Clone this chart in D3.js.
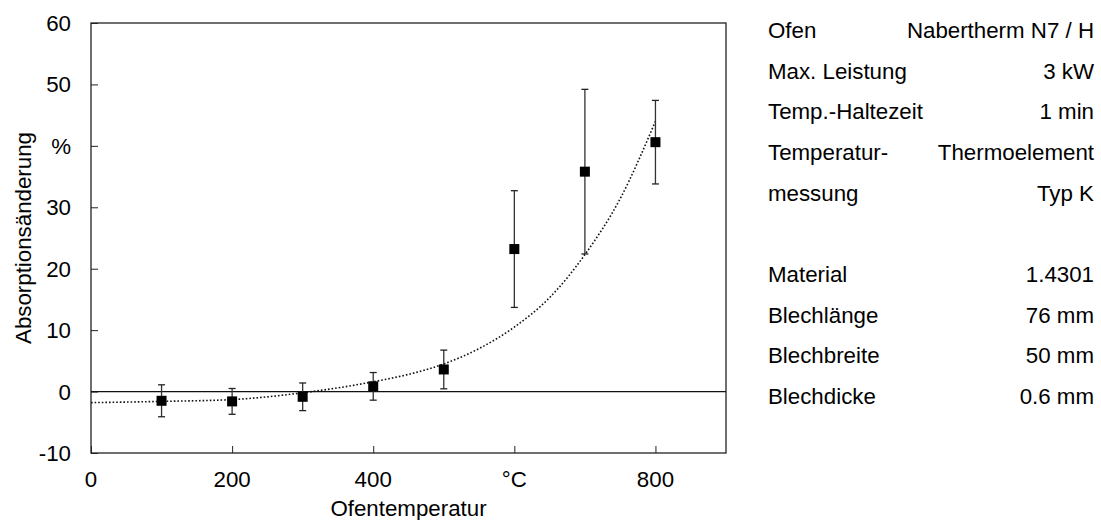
<!DOCTYPE html>
<html>
<head>
<meta charset="utf-8">
<script src="https://cdn.jsdelivr.net/npm/d3@7"></script>
<style>
  body { margin: 0; background: #fff; }
  svg { display: block; font-family: "Liberation Sans", Arial, sans-serif; }
</style>
</head>
<body>
<div id="chart"></div>
<script>
// Messwerte
const temps = [100, 200, 300, 400, 500, 600, 700, 800];
const values = [-1.5, -1.6, -0.85, 0.85, 3.6, 23.2, 35.8, 40.6];
const errors = [2.6, 2.1, 2.25, 2.25, 3.15, 9.5, 13.4, 6.8];

// Trendlinie
const trendX = [0, 100, 200, 300, 400, 450, 500, 550, 600, 650, 700, 750, 800];
const trendY = [-1.8, -1.6, -1.3, -0.2, 1.6, 2.8, 4.5, 7.0, 10.5, 15.3, 22.3, 31.4, 44.0];

// Achsen
const xTicks = [0, 200, 400, 600, 800];
const xTickLabels = ["0", "200", "400", "°C", "800"];
const yTicks = [-10, 0, 10, 20, 30, 40, 50, 60];
const yTickLabels = ["-10", "0", "10", "20", "30", "%", "50", "60"];

// Versuchsparameter
const infoLabels = ["Ofen", "Max. Leistung", "Temp.-Haltezeit", "Temperatur-", "messung", "", "Material", "Blechlänge", "Blechbreite", "Blechdicke"];
const infoValues = ["Nabertherm N7 / H", "3 kW", "1 min", "Thermoelement", "Typ K", "", "1.4301", "76 mm", "50 mm", "0.6 mm"];

const W = 1101, H = 520;
const margin = { top: 23, right: 375, bottom: 67, left: 91 };
const width = W - margin.left - margin.right;
const height = H - margin.top - margin.bottom;
const fs = 22.3;

const svg = d3.select("#chart").append("svg")
  .attr("width", W)
  .attr("height", H);

const g = svg.append("g")
  .attr("transform", "translate(" + margin.left + "," + margin.top + ")");

const x = d3.scaleLinear().domain([0, 900]).range([0, width]);
const y = d3.scaleLinear().domain([-10, 60]).range([height, 0]);

// Rahmen
g.append("rect")
  .attr("width", width)
  .attr("height", height)
  .attr("fill", "none")
  .attr("stroke", "#222")
  .attr("stroke-width", 1.3);

// Ticks nach innen
g.append("g")
  .attr("transform", "translate(0," + height + ")")
  .call(d3.axisBottom(x).tickValues(xTicks).tickSize(-7).tickFormat(""))
  .call(a => a.select(".domain").remove())
  .selectAll("line").attr("stroke", "#222");

g.append("g")
  .call(d3.axisLeft(y).tickValues(yTicks).tickSize(-7).tickFormat(""))
  .call(a => a.select(".domain").remove())
  .selectAll("line").attr("stroke", "#222");

// Tick-Beschriftungen
g.selectAll(".xlab").data(xTicks).join("text")
  .attr("x", d => x(d))
  .attr("y", height + 34)
  .attr("text-anchor", "middle")
  .attr("font-size", fs)
  .text((d, i) => xTickLabels[i]);

g.selectAll(".ylab").data(yTicks).join("text")
  .attr("x", -20)
  .attr("y", d => y(d))
  .attr("dy", "0.36em")
  .attr("text-anchor", "end")
  .attr("font-size", fs)
  .text((d, i) => yTickLabels[i]);

// Achsentitel
g.append("text")
  .attr("x", width / 2)
  .attr("y", height + 63)
  .attr("text-anchor", "middle")
  .attr("font-size", fs)
  .text("Ofentemperatur");

g.append("text")
  .attr("transform", "translate(" + (-60) + "," + (height / 2) + ") rotate(-90)")
  .attr("text-anchor", "middle")
  .attr("font-size", fs)
  .text("Absorptionsänderung");

// Nulllinie
g.append("line")
  .attr("x1", 0).attr("x2", width)
  .attr("y1", y(0)).attr("y2", y(0))
  .attr("stroke", "#111")
  .attr("stroke-width", 1.2);

// Trendlinie
const line = d3.line()
  .x(d => x(d[0]))
  .y(d => y(d[1]))
  .curve(d3.curveMonotoneX);

g.append("path")
  .datum(trendX.map((d, i) => [d, trendY[i]]))
  .attr("fill", "none")
  .attr("stroke", "#111")
  .attr("stroke-width", 1.6)
  .attr("stroke-dasharray", "1.6,2")
  .attr("d", line);

// Fehlerbalken
const data = temps.map((t, i) => ({ t: t, v: values[i], e: errors[i] }));
const eb = g.selectAll(".err").data(data).join("g");
eb.append("line")
  .attr("x1", d => x(d.t)).attr("x2", d => x(d.t))
  .attr("y1", d => y(d.v + d.e)).attr("y2", d => y(d.v - d.e))
  .attr("stroke", "#333").attr("stroke-width", 1.3);
eb.append("line")
  .attr("x1", d => x(d.t) - 3.5).attr("x2", d => x(d.t) + 3.5)
  .attr("y1", d => y(d.v + d.e)).attr("y2", d => y(d.v + d.e))
  .attr("stroke", "#222").attr("stroke-width", 1.3);
eb.append("line")
  .attr("x1", d => x(d.t) - 3.5).attr("x2", d => x(d.t) + 3.5)
  .attr("y1", d => y(d.v - d.e)).attr("y2", d => y(d.v - d.e))
  .attr("stroke", "#222").attr("stroke-width", 1.3);

// Messpunkte
g.selectAll(".pt").data(data).join("rect")
  .attr("x", d => x(d.t) - 5)
  .attr("y", d => y(d.v) - 5)
  .attr("width", 10)
  .attr("height", 10)
  .attr("fill", "#000");

// Parametertabelle
const rowY = d3.scaleLinear().domain([0, 9]).range([30, 396]);
const info = svg.append("g");
info.selectAll(".il").data(infoLabels).join("text")
  .attr("x", 768)
  .attr("y", (d, i) => rowY(i))
  .attr("dy", "0.36em")
  .attr("font-size", fs)
  .text(d => d);
info.selectAll(".iv").data(infoValues).join("text")
  .attr("x", 1094)
  .attr("y", (d, i) => rowY(i))
  .attr("dy", "0.36em")
  .attr("text-anchor", "end")
  .attr("font-size", fs)
  .text(d => d);
</script>
</body>
</html>
